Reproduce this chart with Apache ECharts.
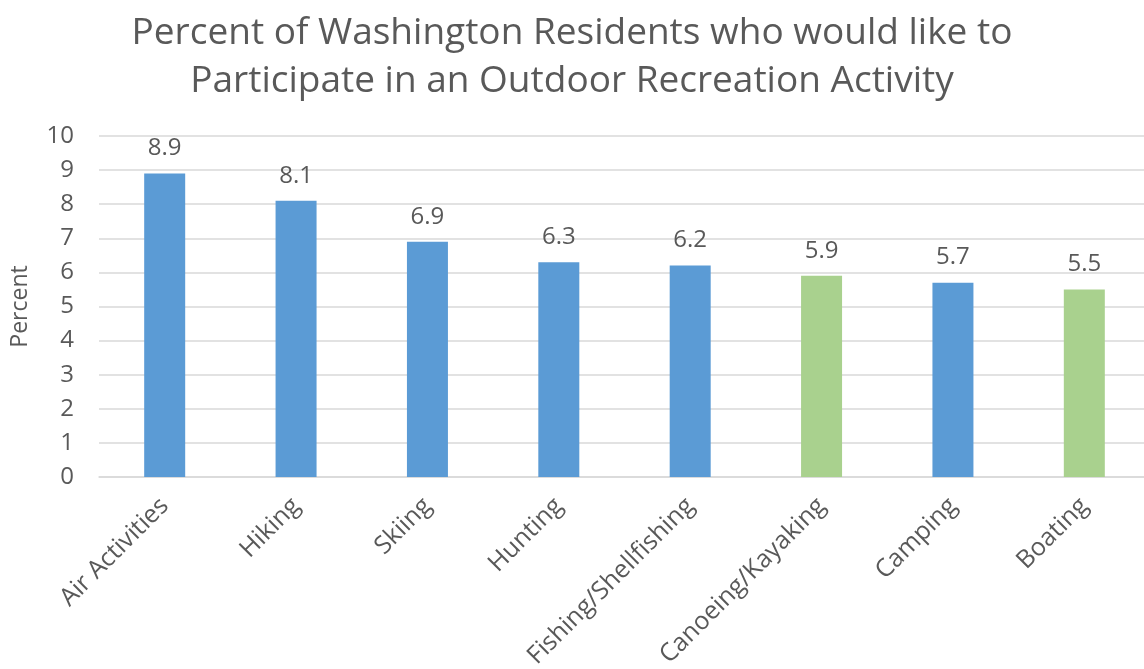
<!DOCTYPE html>
<html>
<head>
<meta charset="utf-8">
<script src="https://cdn.jsdelivr.net/npm/echarts@6/dist/echarts.min.js"></script>
<style>
html,body{margin:0;padding:0;background:#fff;}
#chart{width:1144px;height:669px;}
</style>
</head>
<body>
<div id="chart"></div>
<script>
const categories = ['Air Activities','Hiking','Skiing','Hunting','Fishing/Shellfishing','Canoeing/Kayaking','Camping','Boating'];
const values = [8.9, 8.1, 6.9, 6.3, 6.2, 5.9, 5.7, 5.5];
const greenCategories = ['Canoeing/Kayaking','Boating'];
const yTicks = [0,1,2,3,4,5,6,7,8,9,10];

const chart = echarts.init(document.getElementById('chart'), null, {renderer:'canvas'});
const font = 'Open Sans';
const textColor = '#595959';
chart.setOption({
  animation:false,
  title:{
    text:'Percent of Washington Residents who would like to\nParticipate in an Outdoor Recreation Activity',
    left:'center', top:4,
    textStyle:{fontFamily:font, fontSize:37, fontWeight:'normal', color:textColor, lineHeight:48}
  },
  grid:{left:99, right:-6, top:136, bottom:192, containLabel:false, outerBoundsMode:'none'},
  xAxis:{
    type:'category', data:categories,
    axisLine:{lineStyle:{color:'#D9D9D9', width:1.5}},
    axisTick:{show:false},
    axisLabel:{rotate:45, interval:0, margin:25, fontFamily:font, fontSize:25, color:textColor}
  },
  yAxis:{
    type:'value', min:yTicks[0], max:yTicks[yTicks.length-1], interval:1,
    name:'Percent', nameLocation:'middle', nameGap:67, nameRotate:90,
    nameTextStyle:{fontFamily:font, fontSize:23, color:textColor},
    axisLine:{show:false}, axisTick:{show:false},
    axisLabel:{margin:25, fontFamily:font, fontSize:24, color:textColor},
    splitLine:{lineStyle:{color:'#D9D9D9', width:1.5}}
  },
  series:[{
    type:'bar', data:values, barWidth:41,
    itemStyle:{color:p => greenCategories.includes(p.name) ? '#A9D18E' : '#5B9BD5'},
    label:{show:true, position:'top', distance:13, fontFamily:font, fontSize:24, color:textColor,
      formatter:p => p.value.toFixed(1)}
  }]
});
</script>
</body>
</html>
